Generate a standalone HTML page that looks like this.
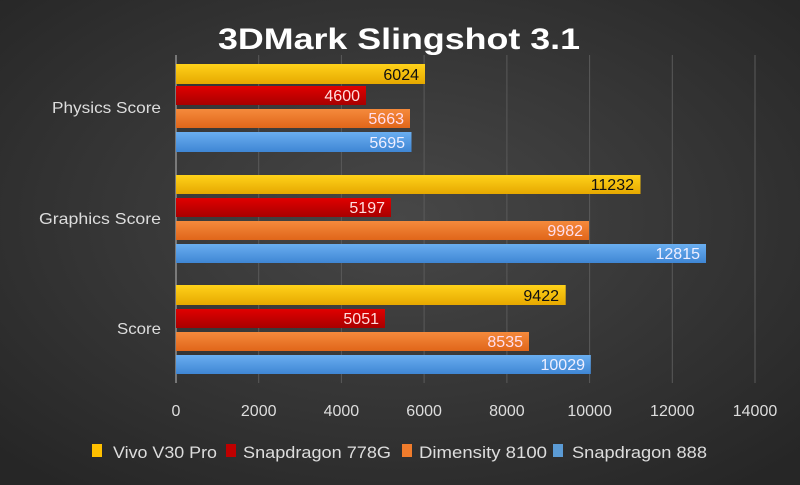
<!DOCTYPE html><html><head><style>body{margin:0}svg{display:block}</style></head><body>
<svg width="800" height="485" xmlns="http://www.w3.org/2000/svg" font-family="Liberation Sans, sans-serif">
<defs>
<radialGradient id="bg" cx="50%" cy="45%" r="70%"><stop offset="0" stop-color="#474747"/><stop offset="1" stop-color="#262626"/></radialGradient>
<linearGradient id="y" x1="0" y1="0" x2="0" y2="1"><stop offset="0" stop-color="#ffd21a"/><stop offset="1" stop-color="#e6a800"/></linearGradient>
<linearGradient id="r" x1="0" y1="0" x2="0" y2="1"><stop offset="0" stop-color="#e00000"/><stop offset="1" stop-color="#a80000"/></linearGradient>
<linearGradient id="o" x1="0" y1="0" x2="0" y2="1"><stop offset="0" stop-color="#f58a3c"/><stop offset="1" stop-color="#e0661a"/></linearGradient>
<linearGradient id="b" x1="0" y1="0" x2="0" y2="1"><stop offset="0" stop-color="#6aaef0"/><stop offset="1" stop-color="#3f86d4"/></linearGradient>
</defs>
<rect width="800" height="485" fill="url(#bg)"/>
<text x="218" y="49" font-size="30" font-weight="bold" fill="#fff" textLength="362" lengthAdjust="spacingAndGlyphs">3DMark Slingshot 3.1</text>
<g stroke="#5a5a5a" stroke-width="1">
<line x1="258.7" y1="55" x2="258.7" y2="383"/><line x1="341.4" y1="55" x2="341.4" y2="383"/><line x1="424.1" y1="55" x2="424.1" y2="383"/><line x1="506.9" y1="55" x2="506.9" y2="383"/><line x1="589.6" y1="55" x2="589.6" y2="383"/><line x1="672.3" y1="55" x2="672.3" y2="383"/><line x1="755" y1="55" x2="755" y2="383"/>
</g>
<line x1="176" y1="55" x2="176" y2="383" stroke="#bbb"/>
<g font-size="16" text-anchor="end">
<rect x="176" y="64" width="249" height="20" fill="url(#y)"/><text x="419" y="80" fill="#111">6024</text>
<rect x="176" y="86" width="190" height="19" fill="url(#r)"/><text x="360" y="101" fill="#fdd">4600</text>
<rect x="176" y="109" width="234" height="19" fill="url(#o)"/><text x="404" y="124" fill="#fde">5663</text>
<rect x="176" y="132" width="235.5" height="20" fill="url(#b)"/><text x="405" y="148" fill="#eef">5695</text>
<rect x="176" y="175" width="464.5" height="19" fill="url(#y)"/><text x="634" y="190" fill="#111">11232</text>
<rect x="176" y="198" width="215" height="19" fill="url(#r)"/><text x="385" y="213" fill="#fdd">5197</text>
<rect x="176" y="221" width="413" height="19" fill="url(#o)"/><text x="583" y="236" fill="#fde">9982</text>
<rect x="176" y="244" width="530" height="19" fill="url(#b)"/><text x="700" y="259" fill="#eef">12815</text>
<rect x="176" y="285" width="389.7" height="20" fill="url(#y)"/><text x="559" y="301" fill="#111">9422</text>
<rect x="176" y="309" width="209" height="19" fill="url(#r)"/><text x="379" y="324" fill="#fdd">5051</text>
<rect x="176" y="332" width="353" height="19" fill="url(#o)"/><text x="523" y="347" fill="#fde">8535</text>
<rect x="176" y="355" width="414.8" height="19" fill="url(#b)"/><text x="585" y="370" fill="#eef">10029</text>
</g>
<g font-size="16" fill="#ddd">
<text x="52" y="113" textLength="109" lengthAdjust="spacingAndGlyphs">Physics Score</text>
<text x="39" y="224" textLength="122" lengthAdjust="spacingAndGlyphs">Graphics Score</text>
<text x="117" y="334" textLength="44" lengthAdjust="spacingAndGlyphs">Score</text>
</g>
<g font-size="16" fill="#ddd" text-anchor="middle">
<text x="176" y="416">0</text><text x="258.7" y="416">2000</text><text x="341.4" y="416">4000</text><text x="424.1" y="416">6000</text><text x="506.9" y="416">8000</text><text x="589.6" y="416">10000</text><text x="672.3" y="416">12000</text><text x="755" y="416">14000</text>
</g>
<g font-size="17" fill="#ddd">
<rect x="92" y="444" width="10" height="13" fill="#ffc000"/><text x="113" y="458" textLength="104" lengthAdjust="spacingAndGlyphs">Vivo V30 Pro</text>
<rect x="226" y="444" width="10" height="13" fill="#c00000"/><text x="243" y="458" textLength="148" lengthAdjust="spacingAndGlyphs">Snapdragon 778G</text>
<rect x="402" y="444" width="10" height="13" fill="#f07c2c"/><text x="419" y="458" textLength="128" lengthAdjust="spacingAndGlyphs">Dimensity 8100</text>
<rect x="553" y="444" width="10" height="13" fill="#5b9bd5"/><text x="572" y="458" textLength="135" lengthAdjust="spacingAndGlyphs">Snapdragon 888</text>
</g>
</svg></body></html>
